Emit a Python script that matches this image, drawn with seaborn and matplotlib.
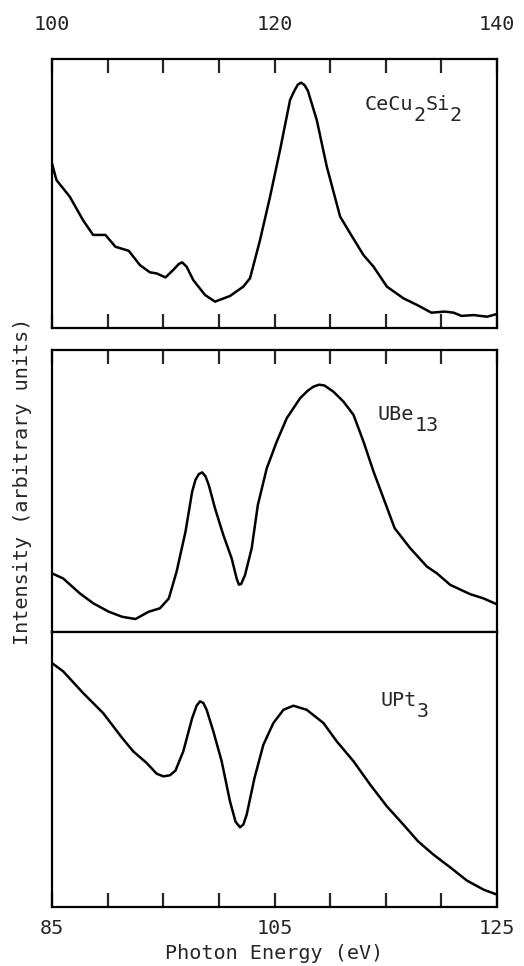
import numpy as np
import pandas as pd
import matplotlib
matplotlib.use("Agg")
import matplotlib.pyplot as plt
import seaborn as sns

# ================= DATA =================
# top panel: CeCu2Si2, photon energy 100-140 eV
cecu_energy = [100.0, 100.4, 101.6, 102.8, 103.7, 104.8, 105.7, 106.9, 107.9, 108.8,
               109.4, 110.2, 110.9, 111.4, 111.7, 112.1, 112.7, 113.75, 114.65, 116.0,
               117.2, 117.8, 118.7, 119.6, 120.5, 121.4, 121.8, 122.1, 122.4, 122.7,
               123.0, 123.8, 124.7, 125.9, 126.8, 128.0, 128.9, 130.1, 131.6, 132.8,
               134.1, 135.3, 136.1, 136.8, 137.9, 139.1, 140.0]
cecu_intensity = [61.2, 55.0, 48.8, 40.0, 34.6, 34.6, 30.2, 28.7, 23.4, 20.7,
                  20.3, 18.8, 21.6, 23.8, 24.4, 22.8, 17.8, 12.3, 9.8, 11.9,
                  15.4, 18.5, 32.7, 48.8, 66.2, 84.8, 88.3, 90.5, 91.2, 90.3,
                  88.2, 77.3, 60.0, 41.4, 35.2, 27.1, 22.8, 15.4, 11.0, 8.6,
                  5.7, 6.1, 5.7, 4.5, 4.8, 4.2, 5.2]

# middle panel: UBe13, photon energy 85-125 eV
ube_energy = [85.0, 86.0, 87.5, 88.7, 90.1, 91.3, 92.5, 93.7, 94.7, 95.5,
              96.2, 97.0, 97.6, 97.9, 98.2, 98.5, 98.8, 99.1, 99.65, 100.4,
              101.15, 101.6, 101.8, 102.0, 102.35, 102.95, 103.5, 104.3, 105.2, 106.1,
              107.3, 108.0, 108.5, 109.0, 109.5, 110.3, 111.2, 112.1, 113.0, 113.9,
              114.8, 115.8, 117.2, 118.7, 119.6, 120.8, 122.6, 123.8, 125.0]
ube_intensity = [20.8, 19.0, 13.7, 10.2, 7.2, 5.4, 4.6, 7.2, 8.4, 11.9,
                 21.4, 35.6, 49.8, 54.0, 56.0, 56.6, 55.2, 52.0, 43.9, 34.4,
                 26.1, 18.9, 16.8, 17.0, 20.2, 29.7, 45.0, 58.0, 67.5, 75.8,
                 82.9, 85.6, 87.0, 87.7, 87.4, 85.2, 81.7, 77.0, 67.5, 56.9,
                 47.4, 36.8, 29.7, 23.2, 20.8, 16.7, 13.4, 11.9, 9.8]

# bottom panel: UPt3, photon energy 85-125 eV
upt_energy = [85.0, 86.0, 87.8, 89.6, 91.3, 92.3, 93.5, 94.4, 95.0, 95.6,
              96.1, 96.8, 97.6, 98.0, 98.3, 98.6, 98.9, 99.5, 100.25, 101.0,
              101.5, 101.9, 102.2, 102.5, 103.2, 104.0, 104.9, 105.8, 106.7, 107.9,
              109.4, 110.6, 112.1, 113.6, 115.1, 116.6, 117.9, 119.3, 120.8, 122.3,
              123.8, 125.0]
upt_intensity = [88.7, 85.7, 77.8, 70.5, 61.5, 56.6, 52.4, 48.5, 47.5, 47.9,
                 49.6, 56.6, 68.7, 73.2, 74.8, 74.2, 71.7, 63.9, 53.0, 38.4,
                 31.0, 29.0, 30.0, 33.6, 46.9, 59.0, 66.9, 71.7, 73.2, 71.7,
                 66.9, 60.2, 53.0, 44.5, 36.6, 29.9, 23.9, 19.0, 14.4, 9.6,
                 6.3, 4.5]

top_ticks = [100, 105, 110, 115, 120, 125, 130, 135, 140]
top_ticklabels = ["100", "", "", "", "120", "", "", "", "140"]
bottom_ticks = [85, 90, 95, 100, 105, 110, 115, 120, 125]
bottom_ticklabels = ["85", "", "", "", "105", "", "", "", "125"]

# compound names as (text, is_subscript) pieces
cecu_name = [("CeCu", False), ("2", True), ("Si", False), ("2", True)]
ube_name = [("UBe", False), ("13", True)]
upt_name = [("UPt", False), ("3", True)]

# ================= STYLE =================
sns.set_style("white")
plt.rcParams['font.family'] = ['DejaVu Sans Mono', 'DejaVu Sans']
FS = 14.5
CHAR_W = 0.602 * FS   # advance of one monospace glyph, in points
LW_FRAME = 1.6
LW_LINE = 1.8

W, H = 524, 966
fig = plt.figure(figsize=(W / 100, H / 100), dpi=100)


def px_axes(x0, y0, x1, y1):
    """Axes from pixel box (top-left origin)"""
    return fig.add_axes([x0 / W, 1 - y1 / H, (x1 - x0) / W, (y1 - y0) / H])


def draw_name(ax, pieces, x, y):
    """Write a formula with typewriter-style dropped subscripts"""
    dx = 0.0
    for txt, sub in pieces:
        ax.annotate(txt, xy=(x, y), xycoords="data",
                    xytext=(dx, -0.55 * FS if sub else 0), textcoords="offset points",
                    fontsize=FS, ha="left", va="center")
        dx += CHAR_W * len(txt)


ax_top = px_axes(52, 59, 497, 328)
ax_mid = px_axes(52, 350, 497, 632)
ax_bot = px_axes(52, 632, 497, 907)

panels = [
    (ax_top, cecu_energy, cecu_intensity, (100, 140), cecu_name, 128.1, 83),
    (ax_mid, ube_energy, ube_intensity, (85, 125), ube_name, 114.3, 77),
    (ax_bot, upt_energy, upt_intensity, (85, 125), upt_name, 114.5, 75),
]

for ax, xe, yi, xlim, name, lx, ly in panels:
    df = pd.DataFrame({"energy": xe, "intensity": yi})
    sns.lineplot(data=df, x="energy", y="intensity", ax=ax, color="black",
                 linewidth=LW_LINE, estimator=None, sort=False)
    ax.set_xlim(*xlim)
    ax.set_ylim(0, 100)
    ax.set_yticks([])
    ax.set_xlabel("")
    ax.set_ylabel("")
    for sp in ax.spines.values():
        sp.set_linewidth(LW_FRAME)
        sp.set_color("black")
    draw_name(ax, name, lx, ly)

# top panel: ticks top and bottom, labels on top
ax_top.set_xticks(top_ticks)
ax_top.set_xticklabels(top_ticklabels)
ax_top.tick_params(axis="x", direction="in", length=10, width=LW_FRAME,
                   top=True, bottom=True, labeltop=True, labelbottom=False,
                   labelsize=FS, pad=18)

# middle panel: ticks on top only
ax_mid.set_xticks(bottom_ticks)
ax_mid.tick_params(axis="x", direction="in", length=10, width=LW_FRAME,
                   top=True, bottom=False, labeltop=False, labelbottom=False)

# bottom panel: ticks and labels at bottom
ax_bot.set_xticks(bottom_ticks)
ax_bot.set_xticklabels(bottom_ticklabels)
ax_bot.tick_params(axis="x", direction="in", length=10, width=LW_FRAME,
                   top=False, bottom=True, labelsize=FS, pad=9)
ax_bot.set_xlabel("Photon Energy (eV)", fontsize=FS, labelpad=4)

fig.text(23 / W, 1 - 481 / H, "Intensity (arbitrary units)", fontsize=FS,
         rotation=90, ha="center", va="center")

fig.savefig("out.png", dpi=100, facecolor="white")
